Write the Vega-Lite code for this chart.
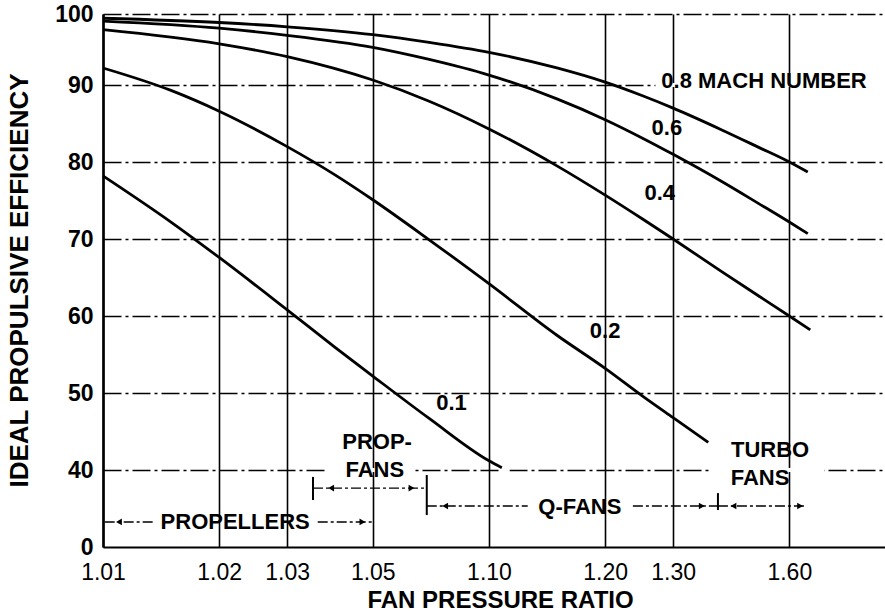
{
  "$schema": "https://vega.github.io/schema/vega-lite/v6.json",
  "autosize": "none",
  "padding": {"left": 103, "top": 14, "right": 0, "bottom": 67},
  "width": 782,
  "height": 533,
  "background": "white",
  "config": {
    "view": {"stroke": null},
    "font": "Liberation Sans",
    "axis": {"labelColor": "black", "titleColor": "black", "domainColor": "black", "tickColor": "black"}
  },
  "datasets": {
    "curves": [
      {"mach": "0.8", "fpr": 1.01, "eff": 99.4},
      {"mach": "0.8", "fpr": 1.02, "eff": 98.8},
      {"mach": "0.8", "fpr": 1.03, "eff": 98.2},
      {"mach": "0.8", "fpr": 1.05, "eff": 97.1},
      {"mach": "0.8", "fpr": 1.07, "eff": 96.0},
      {"mach": "0.8", "fpr": 1.10, "eff": 94.6},
      {"mach": "0.8", "fpr": 1.15, "eff": 92.4},
      {"mach": "0.8", "fpr": 1.20, "eff": 90.4},
      {"mach": "0.8", "fpr": 1.25, "eff": 88.6},
      {"mach": "0.8", "fpr": 1.30, "eff": 87.0},
      {"mach": "0.8", "fpr": 1.40, "eff": 84.2},
      {"mach": "0.8", "fpr": 1.50, "eff": 81.9},
      {"mach": "0.8", "fpr": 1.60, "eff": 80.0},
      {"mach": "0.8", "fpr": 1.67, "eff": 78.7},
      {"mach": "0.6", "fpr": 1.01, "eff": 99.0},
      {"mach": "0.6", "fpr": 1.02, "eff": 98.0},
      {"mach": "0.6", "fpr": 1.03, "eff": 97.0},
      {"mach": "0.6", "fpr": 1.05, "eff": 95.3},
      {"mach": "0.6", "fpr": 1.07, "eff": 93.6},
      {"mach": "0.6", "fpr": 1.10, "eff": 91.4},
      {"mach": "0.6", "fpr": 1.15, "eff": 88.2},
      {"mach": "0.6", "fpr": 1.20, "eff": 85.5},
      {"mach": "0.6", "fpr": 1.25, "eff": 83.1},
      {"mach": "0.6", "fpr": 1.30, "eff": 81.0},
      {"mach": "0.6", "fpr": 1.40, "eff": 77.5},
      {"mach": "0.6", "fpr": 1.50, "eff": 74.6},
      {"mach": "0.6", "fpr": 1.60, "eff": 72.2},
      {"mach": "0.6", "fpr": 1.67, "eff": 70.7},
      {"mach": "0.4", "fpr": 1.01, "eff": 97.8},
      {"mach": "0.4", "fpr": 1.02, "eff": 95.8},
      {"mach": "0.4", "fpr": 1.03, "eff": 94.0},
      {"mach": "0.4", "fpr": 1.05, "eff": 90.7},
      {"mach": "0.4", "fpr": 1.07, "eff": 87.9},
      {"mach": "0.4", "fpr": 1.10, "eff": 84.3},
      {"mach": "0.4", "fpr": 1.15, "eff": 79.5},
      {"mach": "0.4", "fpr": 1.20, "eff": 75.7},
      {"mach": "0.4", "fpr": 1.25, "eff": 72.6},
      {"mach": "0.4", "fpr": 1.30, "eff": 70.0},
      {"mach": "0.4", "fpr": 1.40, "eff": 65.8},
      {"mach": "0.4", "fpr": 1.50, "eff": 62.6},
      {"mach": "0.4", "fpr": 1.60, "eff": 60.0},
      {"mach": "0.4", "fpr": 1.68, "eff": 58.2},
      {"mach": "0.2", "fpr": 1.01, "eff": 92.4},
      {"mach": "0.2", "fpr": 1.015, "eff": 89.3},
      {"mach": "0.2", "fpr": 1.02, "eff": 86.6},
      {"mach": "0.2", "fpr": 1.03, "eff": 82.0},
      {"mach": "0.2", "fpr": 1.04, "eff": 78.3},
      {"mach": "0.2", "fpr": 1.05, "eff": 75.1},
      {"mach": "0.2", "fpr": 1.07, "eff": 69.9},
      {"mach": "0.2", "fpr": 1.10, "eff": 64.2},
      {"mach": "0.2", "fpr": 1.15, "eff": 57.5},
      {"mach": "0.2", "fpr": 1.20, "eff": 53.2},
      {"mach": "0.2", "fpr": 1.25, "eff": 49.6},
      {"mach": "0.2", "fpr": 1.30, "eff": 46.8},
      {"mach": "0.2", "fpr": 1.37, "eff": 43.6},
      {"mach": "0.1", "fpr": 1.01, "eff": 78.2},
      {"mach": "0.1", "fpr": 1.015, "eff": 72.2},
      {"mach": "0.1", "fpr": 1.02, "eff": 67.6},
      {"mach": "0.1", "fpr": 1.03, "eff": 60.8},
      {"mach": "0.1", "fpr": 1.04, "eff": 55.9},
      {"mach": "0.1", "fpr": 1.05, "eff": 52.2},
      {"mach": "0.1", "fpr": 1.07, "eff": 46.7},
      {"mach": "0.1", "fpr": 1.10, "eff": 41.2},
      {"mach": "0.1", "fpr": 1.108, "eff": 40.3}
    ],
    "labels": [
      {"text": "0.8 MACH NUMBER", "fpr": 1.516, "eff": 90.6},
      {"text": "0.6", "fpr": 1.289, "eff": 84.4},
      {"text": "0.4", "fpr": 1.277, "eff": 76.0},
      {"text": "0.2", "fpr": 1.20, "eff": 58.0},
      {"text": "0.1", "fpr": 1.080, "eff": 48.7},
      {"text": "TURBO", "fpr": 1.535, "eff": 42.6},
      {"text": "FANS", "fpr": 1.504, "eff": 35.8},
      {"text": "PROP-", "fpr": 1.0513, "eff": 43.6},
      {"text": "FANS", "fpr": 1.0506, "eff": 40.0},
      {"text": "Q-FANS", "fpr": 1.172, "eff": 20.8},
      {"text": "PROPELLERS", "fpr": 1.022, "eff": 13.0}
    ],
    "shafts": [
      {"range": "PROPELLERS", "fpr": 1.0101, "fpr2": 1.0136, "eff": 13.0},
      {"range": "PROPELLERS", "fpr": 1.036, "fpr2": 1.05, "eff": 13.0},
      {"range": "PROP-FANS", "fpr": 1.035, "fpr2": 1.069, "eff": 30.6},
      {"range": "Q-FANS", "fpr": 1.069, "fpr2": 1.126, "eff": 21.3},
      {"range": "Q-FANS", "fpr": 1.236, "fpr2": 1.392, "eff": 21.3},
      {"range": "TURBO FANS", "fpr": 1.392, "fpr2": 1.66, "eff": 21.3}
    ],
    "bars": [
      {"range": "PROP-FANS", "fpr": 1.035, "eff": 24.4, "eff2": 36.4},
      {"range": "PROP-FANS", "fpr": 1.069, "eff": 16.6, "eff2": 37.4},
      {"range": "TURBO FANS", "fpr": 1.392, "eff": 19.2, "eff2": 28.0}
    ],
    "heads": [
      {"range": "PROPELLERS", "fpr": 1.011, "eff": 13.0, "dir": "left"},
      {"range": "PROPELLERS", "fpr": 1.047, "eff": 13.0, "dir": "right"},
      {"range": "PROP-FANS", "fpr": 1.039, "eff": 30.6, "dir": "left"},
      {"range": "PROP-FANS", "fpr": 1.063, "eff": 30.6, "dir": "right"},
      {"range": "Q-FANS", "fpr": 1.077, "eff": 21.3, "dir": "left"},
      {"range": "Q-FANS", "fpr": 1.356, "eff": 21.3, "dir": "right"},
      {"range": "TURBO FANS", "fpr": 1.43, "eff": 21.3, "dir": "left"},
      {"range": "TURBO FANS", "fpr": 1.64, "eff": 21.3, "dir": "right"}
    ],
    "gridBreaks": [
      {"fpr": 1.038, "fpr2": 1.064, "eff": 40},
      {"fpr": 1.108, "fpr2": 1.113, "eff": 40},
      {"fpr": 1.375, "fpr2": 1.74, "eff": 40},
      {"fpr": 1.27, "fpr2": 2.1, "eff": 90}
    ]
  },
  "layer": [
    {
      "data": {"name": "curves"},
      "transform": [{"calculate": "datum.fpr - 1", "as": "excess"}],
      "mark": {"type": "line", "color": "black", "strokeWidth": 2.8, "interpolate": "monotone"},
      "encoding": {
        "x": {
          "field": "excess",
          "type": "quantitative",
          "scale": {"type": "log", "domain": [0.01, 1.062], "nice": false},
          "axis": {
            "title": "FAN PRESSURE RATIO",
            "values": [0.01, 0.02, 0.03, 0.05, 0.1, 0.2, 0.3, 0.6],
            "labelExpr": "format(datum.value + 1, '.2f')",
            "labelFlush": false,
            "labelFont": "Liberation Sans",
            "labelFontSize": 23,
            "labelPadding": 14,
            "ticks": false,
            "domainWidth": 2.2,
            "grid": true,
            "gridColor": "black",
            "gridWidth": 1.6,
            "gridOpacity": 1,
            "titleFont": "Liberation Sans",
            "titleFontSize": 24,
            "titleFontWeight": "bold",
            "titleBaseline": "middle",
            "titleX": 397,
            "titleY": 53
          }
        },
        "y": {
          "field": "eff",
          "type": "quantitative",
          "scale": {"domain": [0, 40, 90, 100], "range": [533, 456, 71, 0], "nice": false, "zero": false},
          "axis": {
            "title": "IDEAL PROPULSIVE EFFICIENCY",
            "values": [0, 40, 50, 60, 70, 80, 90, 100],
            "labelFontSize": 23,
            "labelFontWeight": "bold",
            "labelPadding": 10,
            "ticks": false,
            "domainWidth": 2.6,
            "grid": true,
            "gridColor": "black",
            "gridWidth": 1.3,
            "gridDash": [18, 4, 3, 4],
            "gridOpacity": {"condition": {"test": "datum.value == 0", "value": 0}, "value": 1},
            "titleFont": "Liberation Sans",
            "titleFontSize": 26,
            "titleFontWeight": "bold",
            "titleBaseline": "middle",
            "titleX": -84,
            "titleY": 266
          }
        },
        "detail": {"field": "mach", "type": "nominal"}
      }
    },
    {
      "data": {"name": "gridBreaks"},
      "transform": [
        {"calculate": "datum.fpr - 1", "as": "excess"},
        {"calculate": "datum.fpr2 - 1", "as": "excess2"}
      ],
      "mark": {"type": "rule", "color": "white", "strokeWidth": 4},
      "encoding": {
        "x": {"field": "excess", "type": "quantitative"},
        "x2": {"field": "excess2"},
        "y": {"field": "eff", "type": "quantitative"}
      }
    },
    {
      "data": {"name": "shafts"},
      "transform": [
        {"calculate": "datum.fpr - 1", "as": "excess"},
        {"calculate": "datum.fpr2 - 1", "as": "excess2"}
      ],
      "mark": {"type": "rule", "color": "black", "strokeWidth": 1.4, "strokeDash": [10, 3, 3, 3]},
      "encoding": {
        "x": {"field": "excess", "type": "quantitative"},
        "x2": {"field": "excess2"},
        "y": {"field": "eff", "type": "quantitative"}
      }
    },
    {
      "data": {"name": "bars"},
      "transform": [{"calculate": "datum.fpr - 1", "as": "excess"}],
      "mark": {"type": "rule", "color": "black", "strokeWidth": 2},
      "encoding": {
        "x": {"field": "excess", "type": "quantitative"},
        "y": {"field": "eff", "type": "quantitative"},
        "y2": {"field": "eff2"}
      }
    },
    {
      "data": {"name": "heads"},
      "transform": [{"calculate": "datum.fpr - 1", "as": "excess"}],
      "mark": {"type": "point", "filled": true, "color": "black", "opacity": 1, "size": 45},
      "encoding": {
        "x": {"field": "excess", "type": "quantitative"},
        "y": {"field": "eff", "type": "quantitative"},
        "shape": {
          "field": "dir",
          "type": "nominal",
          "scale": {"domain": ["left", "right"], "range": ["triangle-left", "triangle-right"]},
          "legend": null
        }
      }
    },
    {
      "data": {"name": "labels"},
      "transform": [{"calculate": "datum.fpr - 1", "as": "excess"}],
      "mark": {"type": "text", "color": "black", "font": "Liberation Sans", "fontSize": 22, "fontWeight": "bold", "align": "center", "baseline": "middle"},
      "encoding": {
        "x": {"field": "excess", "type": "quantitative"},
        "y": {"field": "eff", "type": "quantitative"},
        "text": {"field": "text"}
      }
    }
  ]
}
